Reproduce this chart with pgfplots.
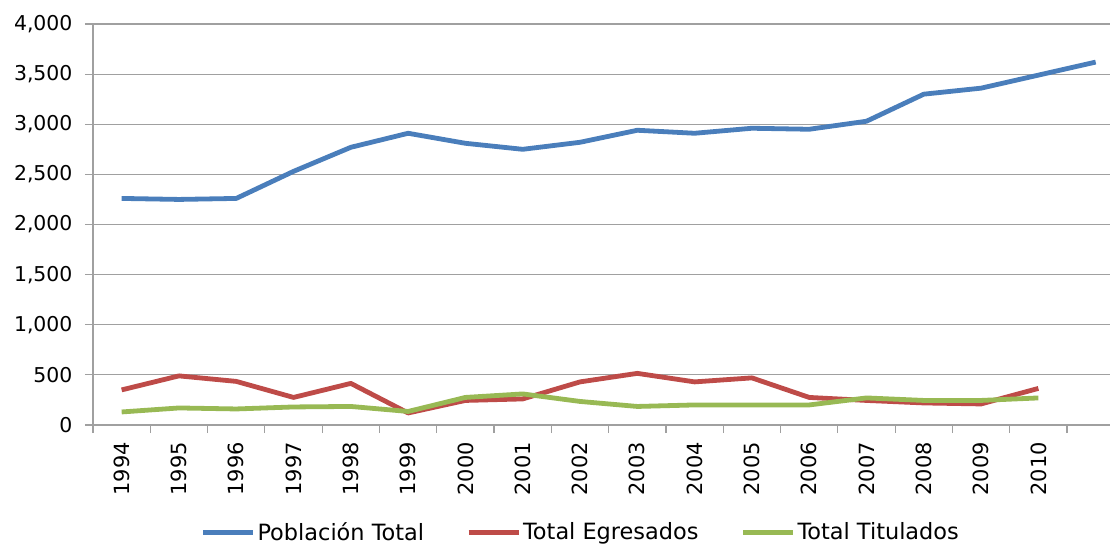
\documentclass[border=0pt]{standalone}
\usepackage{fontspec}
\setmainfont{DejaVu Sans}
\usepackage{pgfplots}
\pgfplotsset{compat=1.18}
\definecolor{cblue}{RGB}{74,126,187}
\definecolor{cred}{RGB}{190,75,72}
\definecolor{cgreen}{RGB}{152,185,84}
\definecolor{cgrid}{RGB}{160,160,160}
\begin{document}
\begin{tikzpicture}
\path[use as bounding box] (0,0) rectangle (1111bp,545bp);
\begin{axis}[
  at={(93bp,120bp)}, anchor=south west,
  scale only axis, width=1017bp, height=401bp,
  xmin=-0.5, xmax=17.25, ymin=0, ymax=4000,
  clip=false,
  axis x line*=bottom, axis y line*=left,
  axis line style={cgrid, line width=1.2bp, -},
  every tick/.style={cgrid, line width=1.2bp},
  tick align=outside,
  major tick length=8bp,
  ytick={0,500,...,4000},
  ymajorgrids,
  grid style={cgrid, line width=1.2bp},
  xtick={-0.5,0.5,...,16.5},
  xticklabels={},
  extra x ticks={0,1,...,16},
  extra x tick labels={1994,1995,1996,1997,1998,1999,2000,2001,2002,2003,2004,2005,2006,2007,2008,2009,2010},
  extra x tick style={major tick length=0pt, xmajorgrids=false, xticklabel style={yshift=-17bp, rotate=90, anchor=east, font=\fontsize{21}{24}\selectfont, inner sep=0pt}},
  yticklabel style={font=\fontsize{20.5}{23}\selectfont, xshift=-9bp},
  /pgf/number format/1000 sep={,},
  /pgf/number format/assume math mode=true,
  legend columns=3,
  legend style={at={(0.4795,-0.267)}, anchor=center, draw=none, fill=none,
    font=\fontsize{22.5}{25}\selectfont, /tikz/every even column/.append style={column sep=40bp},
    nodes={inner sep=2bp}},
  legend cell align=left,
  legend image code/.code={\draw[#1, line width=5bp] (0bp,0bp) -- (50bp,0bp);},
  every axis plot/.append style={line width=4.8bp, line join=round},
]
\addplot[cblue] coordinates {(0,2260) (1,2250) (2,2260) (3,2530) (4,2770) (5,2910) (6,2810) (7,2750) (8,2820) (9,2940) (10,2910) (11,2960) (12,2950) (13,3030) (14,3300) (15,3360) (16,3490) (17,3620)};
\addlegendentry{Población Total}
\addplot[cred] coordinates {(0,350) (1,490) (2,435) (3,275) (4,415) (5,120) (6,245) (7,260) (8,430) (9,515) (10,430) (11,470) (12,275) (13,245) (14,220) (15,210) (16,365)};
\addlegendentry{Total Egresados}
\addplot[cgreen] coordinates {(0,130) (1,170) (2,160) (3,180) (4,185) (5,135) (6,275) (7,310) (8,235) (9,185) (10,200) (11,200) (12,200) (13,270) (14,245) (15,245) (16,270)};
\addlegendentry{Total Titulados}
\end{axis}
\end{tikzpicture}
\end{document}
